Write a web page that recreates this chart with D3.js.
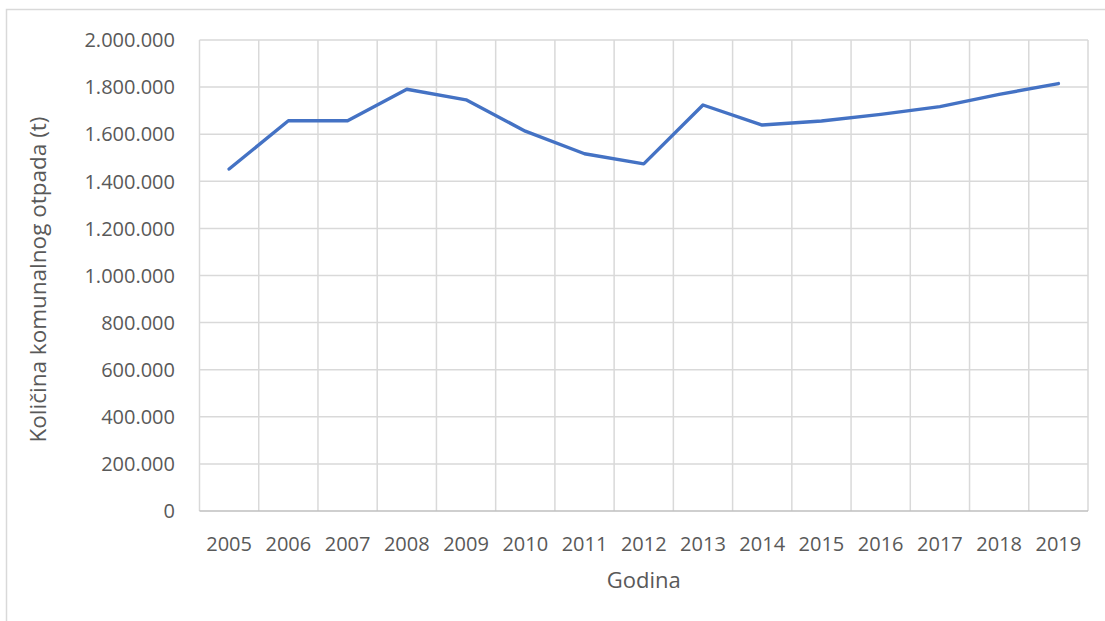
<!DOCTYPE html>
<html>
<head>
<meta charset="utf-8">
<script src="https://cdn.jsdelivr.net/npm/d3@7"></script>
<style>
  body { margin: 0; background: #fff; }
  text { font-family: "Open Sans", sans-serif; fill: #595959; }
</style>
</head>
<body>
<svg width="1105" height="621"></svg>
<script>
// years and the amount of waste (t)
var years = ["2005","2006","2007","2008","2009","2010","2011","2012","2013","2014","2015","2016","2017","2018","2019"];
var values = [1452000,1657000,1657000,1791000,1746000,1613000,1517000,1474000,1724000,1639000,1656000,1684000,1717000,1769000,1815000];
var yTicks = [0,200000,400000,600000,800000,1000000,1200000,1400000,1600000,1800000,2000000];

var svg = d3.select("svg");
var plotL = 199.5, plotR = 1088, plotT = 40, plotB = 511;

// outer chart frame (only left and top visible)
svg.append("path")
  .attr("d", "M6.5,621 L6.5,9.5 L1105,9.5")
  .attr("fill", "none")
  .attr("stroke", "#d9d9d9")
  .attr("stroke-width", 1.5);

var x = d3.scaleBand().domain(years).range([plotL, plotR]);
var y = d3.scaleLinear().domain([0, 2000000]).range([plotB, plotT]);

var fmt = function(v) { return d3.format(",")(v).replace(/,/g, "."); };

// horizontal gridlines
svg.append("g").selectAll("line")
  .data(yTicks.filter(function(d){ return d > 0; }))
  .enter().append("line")
  .attr("x1", plotL).attr("x2", plotR)
  .attr("y1", function(d){ return y(d); }).attr("y2", function(d){ return y(d); })
  .attr("stroke", "#d9d9d9").attr("stroke-width", 1.5);

// vertical gridlines at category boundaries
var bounds = years.map(function(d){ return x(d); }).concat([plotR]);
svg.append("g").selectAll("line")
  .data(bounds)
  .enter().append("line")
  .attr("x1", function(d){ return d; }).attr("x2", function(d){ return d; })
  .attr("y1", plotT).attr("y2", plotB)
  .attr("stroke", "#d9d9d9").attr("stroke-width", 1.5);

// x axis line
svg.append("line")
  .attr("x1", plotL).attr("x2", plotR)
  .attr("y1", plotB).attr("y2", plotB)
  .attr("stroke", "#bfbfbf").attr("stroke-width", 1.5);

// y tick labels
svg.append("g").selectAll("text")
  .data(yTicks)
  .enter().append("text")
  .attr("x", 175)
  .attr("y", function(d){ return y(d); })
  .attr("dy", "0.36em")
  .attr("text-anchor", "end")
  .style("font-size", "20px")
  .text(fmt);

// x tick labels
svg.append("g").selectAll("text")
  .data(years)
  .enter().append("text")
  .attr("x", function(d){ return x(d) + x.bandwidth() / 2; })
  .attr("y", 551)
  .attr("text-anchor", "middle")
  .style("font-size", "20px")
  .text(function(d){ return d; });

// line
var line = d3.line()
  .x(function(d, i){ return x(years[i]) + x.bandwidth() / 2; })
  .y(function(d){ return y(d); });

svg.append("path")
  .datum(values)
  .attr("d", line)
  .attr("fill", "none")
  .attr("stroke", "#4472c4")
  .attr("stroke-width", 3.4)
  .attr("stroke-linecap", "round")
  .attr("stroke-linejoin", "round");

// axis titles
svg.append("text")
  .attr("transform", "translate(46," + ((plotT + plotB) / 2 + 4) + ") rotate(-90)")
  .attr("text-anchor", "middle")
  .style("font-size", "22.5px")
  .text("Količina komunalnog otpada (t)");

svg.append("text")
  .attr("x", (plotL + plotR) / 2)
  .attr("y", 588)
  .attr("text-anchor", "middle")
  .style("font-size", "22px")
  .text("Godina");
</script>
</body>
</html>
